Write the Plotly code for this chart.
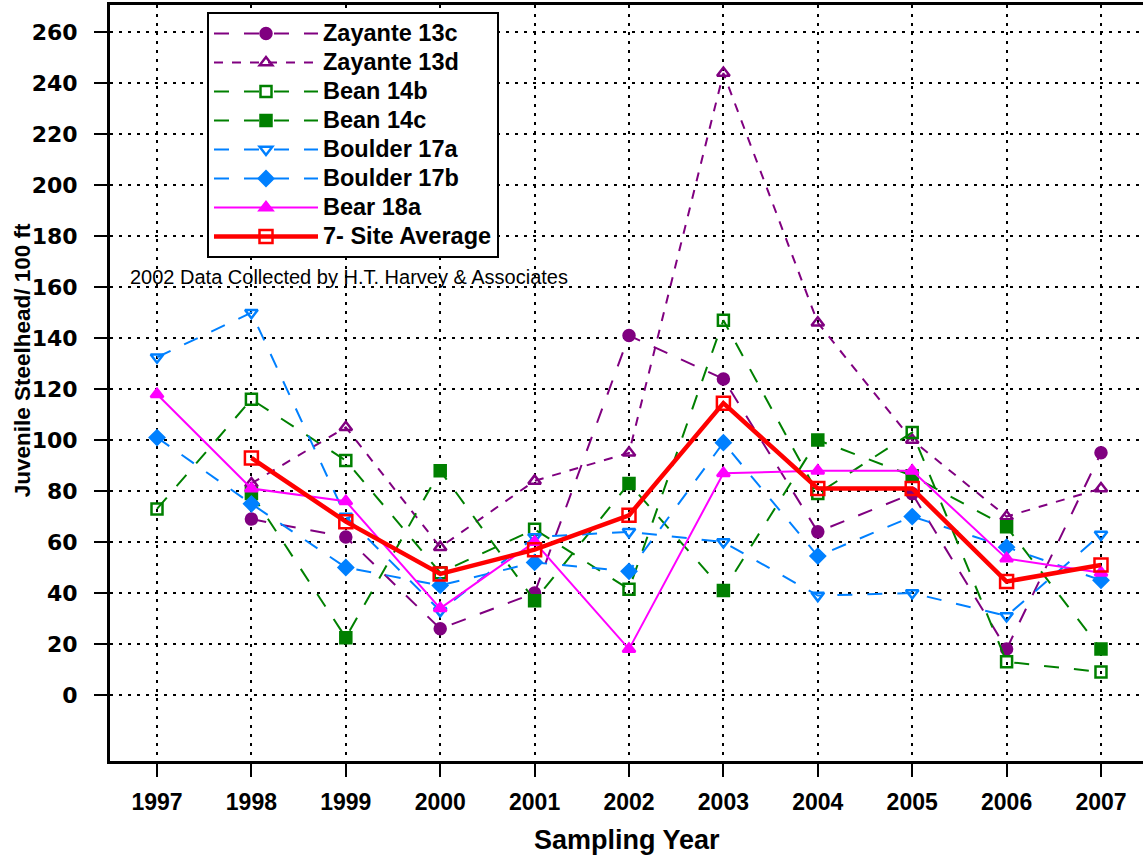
import plotly.graph_objects as go

# sampling years
years = [1997, 1998, 1999, 2000, 2001, 2002, 2003, 2004, 2005, 2006, 2007]

# juvenile steelhead per 100 ft (None = no sample)
zayante_13c = [None, 69, 62, 26, 40, 141, 124, 64, 79, 18, 95]
zayante_13d = [None, 83, 105, 58, 84, 95, 244, 146, 100, 70, 81]
bean_14b = [73, 116, 92, 48, 65, 41.5, 147, 79, 103, 13, 9]
bean_14c = [None, 79, 22.5, 88, 37, 83, 41, 100, 86, 66, 18]
boulder_17a = [132.5, 150, 70, 33, 62, 64, 60, 39, 40, 31, 63]
boulder_17b = [101, 75, 50, 43, 52, 48.5, 99, 54.5, 70, 58, 45]
bear_18a = [118, 81, 76, 34, 60, 18, 87, 88, 88, 53.5, 48]
site_avg = [None, 93, 68, 47.5, 57, 70.5, 114.5, 81, 81, 44.5, 51]

y_ticks = list(range(0, 261, 20))

FONT = "Liberation Sans, Arial, sans-serif"
PURPLE = "#800080"
GREEN = "#008000"
BLUE = "#0080FF"
MAGENTA = "#FF00FF"
RED = "#FF0000"

series = [
    ("Zayante 13c", zayante_13c, PURPLE, "longdash", "circle"),
    ("Zayante 13d", zayante_13d, PURPLE, "dash", "triangle-up-open"),
    ("Bean 14b", bean_14b, GREEN, "longdash", "square-open"),
    ("Bean 14c", bean_14c, GREEN, "longdash", "square"),
    ("Boulder 17a", boulder_17a, BLUE, "longdash", "triangle-down-open"),
    ("Boulder 17b", boulder_17b, BLUE, "longdash", "diamond"),
    ("Bear 18a", bear_18a, MAGENTA, "solid", "triangle-up"),
]


def leg(name):
    # bigger text in legend, but keep row spacing of a 20px font
    return "<span style='font-size:23.5px'>" + name + "</span>"


fig = go.Figure()
for name, vals, col, dash, sym in series:
    fig.add_trace(go.Scatter(
        x=years, y=vals, name=leg(name), mode="lines+markers",
        line=dict(color=col, width=2, dash=dash),
        marker=dict(symbol=sym, size=11, color=col, line=dict(color=col, width=2.5)),
    ))

fig.add_trace(go.Scatter(
    x=years, y=site_avg, name=leg("7- Site Average"), mode="lines+markers",
    line=dict(color=RED, width=4.5),
    marker=dict(symbol="square-open", size=13, color=RED, line=dict(color=RED, width=2.5)),
))

fig.add_annotation(
    text="2002 Data Collected by H.T. Harvey & Associates",
    xref="paper", yref="paper", x=0.017, y=0.640, xanchor="left", yanchor="middle",
    showarrow=False, font=dict(family=FONT, size=20, color="black"),
)
fig.add_annotation(
    text="Sampling Year", xref="paper", yref="paper", x=0.5, y=-0.1045,
    xanchor="center", yanchor="middle", showarrow=False,
    font=dict(family=FONT, size=27, color="black", weight="bold"),
)
fig.add_annotation(
    text="Juvenile Steelhead/ 100 ft", xref="paper", yref="paper", x=-0.0852, y=0.530,
    xanchor="center", yanchor="middle", textangle=-90, showarrow=False,
    font=dict(family=FONT, size=22.5, color="black", weight="bold"),
)

axis_common = dict(
    showline=True, linecolor="black", linewidth=3,
    showgrid=True, gridcolor="black", gridwidth=2, griddash="3px,6px",
    ticks="outside", tickcolor="black", tickwidth=2,
    zeroline=False, automargin=False,
)

fig.update_xaxes(
    axis_common, mirror=True, range=[1996.502, 2007.445], tickvals=years, ticklen=13,
    ticklabelstandoff=5,
    tickfont=dict(family=FONT, size=23, color="black", weight="bold"),
)
fig.update_yaxes(
    axis_common, mirror=False, range=[-25.9, 270.7], tickvals=y_ticks, ticklen=13,
    ticklabelstandoff=12,
    tickfont=dict(family="DejaVu Sans, sans-serif", size=22, color="black", weight="bold"),
)

fig.update_layout(
    width=1143, height=857,
    margin=dict(l=110, r=0, t=5, b=96),
    plot_bgcolor="white", paper_bgcolor="white",
    font=dict(family=FONT, color="black"),
    legend=dict(
        x=0.0939, y=0.9907, xanchor="left", yanchor="top",
        bgcolor="white", bordercolor="black", borderwidth=2,
        font=dict(family=FONT, size=20, color="black", weight="bold"),
        tracegroupgap=0, itemwidth=104,
    ),
)

# page body has a default 8px margin; drop it so the figure sits at the corner
fig.write_html("out.html", config={"displayModeBar": False},
               post_script="document.body.style.margin='0px';")
